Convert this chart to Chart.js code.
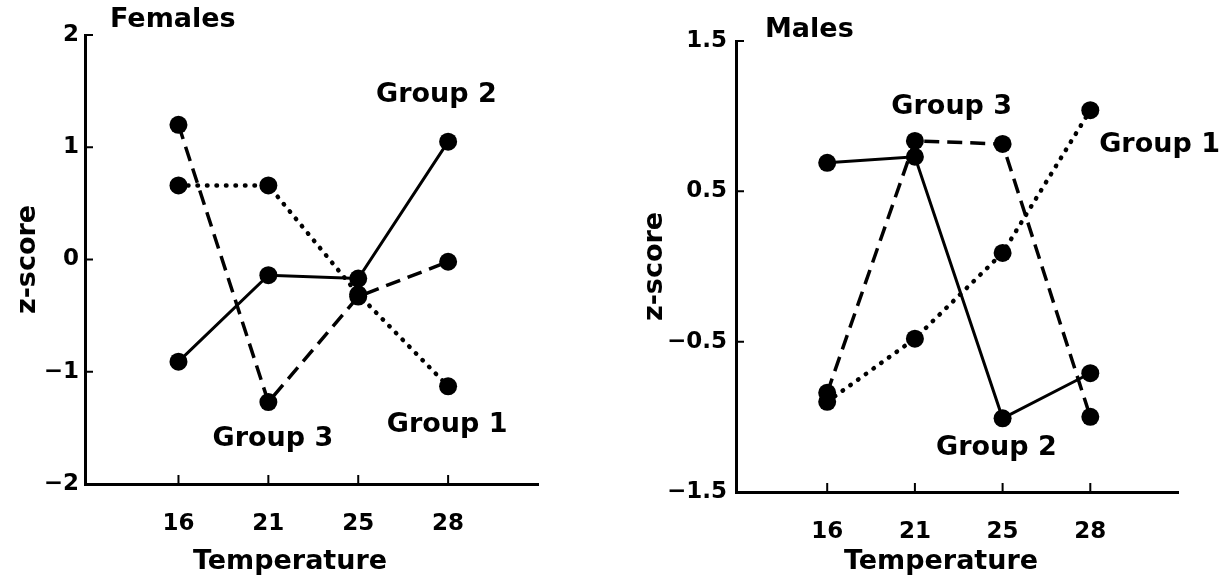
<!DOCTYPE html>
<html>
<head>
<meta charset="utf-8">
<script src="https://cdn.jsdelivr.net/npm/chart.js@4/dist/chart.umd.min.js"></script>
<style>
  body { margin: 0; background: #fff; }
  #wrap { position: relative; width: 1227px; height: 582px; }
  canvas { position: absolute; top: 0; }
</style>
</head>
<body>
<div id="wrap">
  <canvas id="females" width="580" height="582" style="left:0"></canvas>
  <canvas id="males" width="627" height="582" style="left:600px"></canvas>
</div>
<script>
// temperatures (x categories)
const temperatures = ['16', '21', '25', '28'];

// z-scores
const femalesGroup1 = [0.66, 0.66, -0.31, -1.13];
const femalesGroup2 = [-0.91, -0.14, -0.17, 1.05];
const femalesGroup3 = [1.2, -1.27, -0.33, -0.02];

const malesGroup1 = [-0.9, -0.48, 0.09, 1.04];
const malesGroup2 = [0.69, 0.73, -1.01, -0.71];
const malesGroup3 = [-0.84, 0.835, 0.815, -1.0];

const femalesTicks = [-2, -1, 0, 1, 2];
const malesTicks = [-1.5, -0.5, 0.5, 1.5];

const FONT = '"DejaVu Sans", sans-serif';

function fmt(v) {
  return v < 0 ? '\u2212' + Math.abs(v) : String(v);
}

// tick marks drawn inside the axes, like the original
const inwardTicks = {
  id: 'inwardTicks',
  afterDraw(chart) {
    const { ctx, scales: { x, y } } = chart;
    const axisX = y.right;
    const axisY = x.top;
    ctx.save();
    ctx.strokeStyle = '#000';
    ctx.lineWidth = 2;
    ctx.beginPath();
    y.ticks.forEach(t => {
      const py = y.getPixelForValue(t.value);
      ctx.moveTo(axisX, py);
      ctx.lineTo(axisX + 8, py);
    });
    x.ticks.forEach(t => {
      const px = x.getPixelForValue(t.value);
      ctx.moveTo(px, axisY);
      ctx.lineTo(px, axisY - 9);
    });
    ctx.stroke();
    ctx.restore();
  }
};

// panel title, x-axis title and group labels
const panelText = {
  id: 'panelText',
  afterDatasetsDraw(chart, args, opts) {
    const { ctx, chartArea, scales: { x, y } } = chart;
    ctx.save();
    ctx.fillStyle = '#000';
    ctx.font = 'bold 27px ' + FONT;
    ctx.textBaseline = 'middle';
    ctx.textAlign = 'left';
    ctx.fillText(opts.title, chartArea.left + opts.titleDx, opts.titleY);
    ctx.textAlign = 'center';
    ctx.fillText('Temperature', chartArea.left + 205, 562);
    opts.labels.forEach(l => {
      ctx.fillText(l.text, x.getPixelForValue(l.x), y.getPixelForValue(l.y));
    });
    ctx.restore();
  }
};

function series(values, style) {
  return Object.assign({
    data: values.map((v, i) => ({ x: i, y: v })),
    borderColor: '#000',
    backgroundColor: '#000',
    pointBackgroundColor: '#000',
    pointBorderWidth: 0,
    pointRadius: 9,
    tension: 0,
    fill: false
  }, style);
}

const dotted = { borderWidth: 4.5, borderDash: [0.5, 9], borderCapStyle: 'round' };
const solid = { borderWidth: 3 };
const dashed = { borderWidth: 3.5, borderDash: [15, 8] };

function makeChart(id, g1, g2, g3, yTicks, cfg) {
  new Chart(document.getElementById(id), {
    type: 'line',
    data: {
      datasets: [series(g1, dotted), series(g2, solid), series(g3, dashed)]
    },
    plugins: [inwardTicks, panelText],
    options: {
      responsive: false,
      animation: false,
      layout: { padding: { top: cfg.top, right: cfg.right, left: 0, bottom: 0 } },
      plugins: {
        legend: { display: false },
        tooltip: { enabled: false },
        panelText: { title: cfg.title, titleDx: cfg.titleDx, titleY: cfg.titleY, labels: cfg.labels }
      },
      scales: {
        x: {
          type: 'linear',
          min: -1.04,
          max: 4,
          afterBuildTicks: s => { s.ticks = temperatures.map((t, i) => ({ value: i })); },
          afterFit: s => { s.height = cfg.xHeight; },
          grid: { display: false, drawTicks: false },
          border: { display: true, color: '#000', width: 3 },
          ticks: {
            color: '#000',
            padding: 26,
            maxRotation: 0,
            font: { family: FONT, size: 23, weight: 'bold' },
            callback: v => temperatures[v]
          }
        },
        y: {
          min: yTicks[0],
          max: yTicks[yTicks.length - 1],
          afterBuildTicks: s => { s.ticks = yTicks.map(v => ({ value: v })); },
          afterFit: s => { s.width = cfg.yWidth; },
          grid: { display: false, drawTicks: false },
          border: { display: true, color: '#000', width: 3 },
          ticks: {
            color: '#000',
            padding: cfg.tickPad,
            font: { family: FONT, size: 23, weight: 'bold' },
            callback: v => fmt(v)
          },
          title: {
            display: true,
            text: 'z-score',
            color: '#000',
            padding: { top: cfg.yTitlePad, bottom: 0 },
            font: { family: FONT, size: 27, weight: 'bold' }
          }
        }
      }
    }
  });
}

makeChart('females', femalesGroup1, femalesGroup2, femalesGroup3, femalesTicks, {
  top: 35, right: 42, xHeight: 98, yWidth: 85, tickPad: 6, yTitlePad: 12,
  title: 'Females', titleDx: 25, titleY: 20,
  labels: [
    { text: 'Group 2', x: 2.87, y: 1.47 },
    { text: 'Group 3', x: 1.05, y: -1.6 },
    { text: 'Group 1', x: 2.99, y: -1.47 }
  ]
});

makeChart('males', malesGroup1, malesGroup2, malesGroup3, malesTicks, {
  top: 41, right: 49, xHeight: 90, yWidth: 136, tickPad: 9, yTitlePad: 39,
  title: 'Males', titleDx: 29, titleY: 30,
  labels: [
    { text: 'Group 3', x: 1.42, y: 1.06 },
    { text: 'Group 1', x: 3.79, y: 0.81 },
    { text: 'Group 2', x: 1.93, y: -1.21 }
  ]
});
</script>
</body>
</html>
